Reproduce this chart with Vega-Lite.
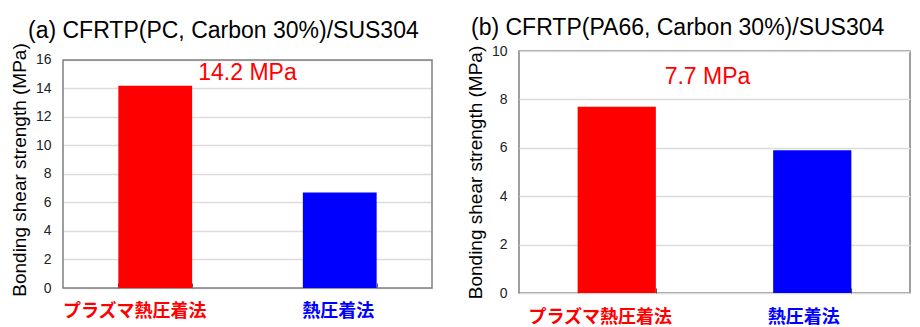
{
  "$schema": "https://vega.github.io/schema/vega-lite/v6.json",
  "background": "white",
  "padding": {"left": 10, "top": 16, "right": 0, "bottom": 0},
  "spacing": 32,
  "datasets": {
    "pc": [
      {"method": "プラズマ熱圧着法", "strength": 14.2, "label": "14.2 MPa"},
      {"method": "熱圧着法", "strength": 6.7, "label": null}
    ],
    "pa66": [
      {"method": "プラズマ熱圧着法", "strength": 7.7, "label": "7.7 MPa"},
      {"method": "熱圧着法", "strength": 5.9, "label": null}
    ]
  },
  "config": {
    "font": "Liberation Sans",
    "view": {"stroke": "#808080", "strokeWidth": 1.5},
    "axis": {"domain": false},
    "title": {"font": "Liberation Sans", "fontSize": 23, "fontWeight": "normal", "color": "#000000", "anchor": "start", "frame": "group"}
  },
  "hconcat": [
    {
      "width": 369,
      "height": 237,
      "view": {"stroke": null},
      "title": {"text": "(a) CFRTP(PC, Carbon 30%)/SUS304", "dx": -35, "offset": 0},
      "data": {"name": "pc"},
      "encoding": {
        "x": {
          "field": "method", "type": "nominal", "sort": null,
          "scale": {"paddingInner": 0.6, "paddingOuter": 0.3},
          "axis": {
            "title": null, "labelAngle": 0, "grid": false,
            "ticks": true, "tickBand": "extent", "tickSize": -5, "tickColor": "#555555", "tickWidth": 1,
            "labelPadding": 19,
            "labelFont": "Noto Sans CJK JP", "labelFontSize": 18, "labelFontWeight": "bold",
            "labelColor": {"condition": {"test": "datum.value === 'プラズマ熱圧着法'", "value": "#ff0000"}, "value": "#0000ff"},
            "labelOffset": {"condition": {"test": "datum.value === 'プラズマ熱圧着法'", "value": -21}, "value": -2}
          }
        },
        "y": {
          "field": "strength", "type": "quantitative",
          "scale": {"domain": [0, 16.63], "nice": false},
          "axis": {
            "title": "Bonding shear strength (MPa)", "values": [0, 2, 4, 6, 8, 10, 12, 14, 16],
            "titleFont": "Liberation Sans", "titleFontSize": 19, "titleFontWeight": "normal", "titleColor": "#000000", "titlePadding": 6,
            "ticks": false, "labelPadding": 12, "labelFontSize": 14, "labelColor": "#222222",
            "grid": true, "gridColor": "#dcdcdc", "gridWidth": 1.5
          }
        }
      },
      "layer": [
        {
          "transform": [{"filter": "isValid(datum.label)"}],
          "mark": {"type": "rect", "fill": null, "stroke": "#808080", "strokeWidth": 1.5},
          "encoding": {"x": null, "y": {"datum": 0}, "y2": {"datum": 16}}
        },
        {
          "mark": {"type": "bar"},
          "encoding": {
            "color": {"field": "method", "type": "nominal", "scale": {"domain": ["プラズマ熱圧着法", "熱圧着法"], "range": ["#ff0000", "#0000ff"]}, "legend": null}
          }
        },
        {
          "transform": [{"filter": "isValid(datum.label)"}],
          "mark": {"type": "text", "font": "Liberation Sans", "fontSize": 23, "color": "#ff0000", "baseline": "middle", "align": "center", "dy": -13},
          "encoding": {"x": null, "text": {"field": "label"}}
        }
      ]
    },
    {
      "width": 391,
      "height": 242,
      "title": {"text": "(b) CFRTP(PA66, Carbon 30%)/SUS304", "dx": -48, "offset": 4},
      "data": {"name": "pa66"},
      "encoding": {
        "x": {
          "field": "method", "type": "nominal", "sort": null,
          "scale": {"paddingInner": 0.6, "paddingOuter": 0.3},
          "axis": {
            "title": null, "labelAngle": 0, "grid": false,
            "ticks": true, "tickBand": "extent", "tickSize": -5, "tickColor": "#555555", "tickWidth": 1,
            "labelPadding": 20,
            "labelFont": "Noto Sans CJK JP", "labelFontSize": 18, "labelFontWeight": "bold",
            "labelColor": {"condition": {"test": "datum.value === 'プラズマ熱圧着法'", "value": "#ff0000"}, "value": "#0000ff"},
            "labelOffset": {"condition": {"test": "datum.value === 'プラズマ熱圧着法'", "value": -17}, "value": -9}
          }
        },
        "y": {
          "field": "strength", "type": "quantitative",
          "scale": {"domain": [0, 10], "nice": false},
          "axis": {
            "title": "Bonding shear strength (MPa)", "values": [0, 2, 4, 6, 8, 10],
            "titleFont": "Liberation Sans", "titleFontSize": 19, "titleFontWeight": "normal", "titleColor": "#000000", "titlePadding": 6,
            "ticks": false, "labelPadding": 12, "labelFontSize": 14, "labelColor": "#222222",
            "grid": true, "gridColor": "#dcdcdc", "gridWidth": 1.5
          }
        }
      },
      "layer": [
        {
          "mark": {"type": "bar"},
          "encoding": {
            "color": {"field": "method", "type": "nominal", "scale": {"domain": ["プラズマ熱圧着法", "熱圧着法"], "range": ["#ff0000", "#0000ff"]}, "legend": null}
          }
        },
        {
          "transform": [{"filter": "isValid(datum.label)"}],
          "mark": {"type": "text", "font": "Liberation Sans", "fontSize": 23, "color": "#ff0000", "baseline": "middle", "align": "center", "dx": -7, "dy": -30},
          "encoding": {"x": null, "text": {"field": "label"}}
        }
      ]
    }
  ]
}
